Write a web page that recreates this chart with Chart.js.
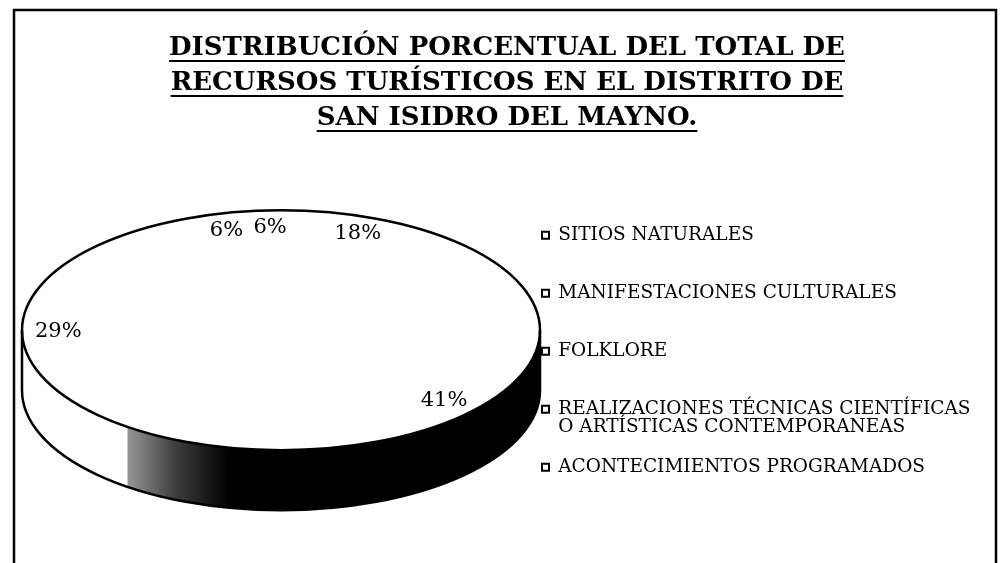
<!DOCTYPE html>
<html>
<head>
<meta charset="utf-8">
<script src="https://cdn.jsdelivr.net/npm/chart.js@4.4.1/dist/chart.umd.min.js"></script>
<style>
  html, body { margin: 0; background: #fff; }
  #wrap { width: 1004px; height: 563px; position: relative; }
</style>
</head>
<body>
<div id="wrap"><canvas id="pie"></canvas></div>
<script>
  // ── data ──
  const titleLines = [
    'DISTRIBUCIÓN PORCENTUAL DEL TOTAL DE',
    'RECURSOS TURÍSTICOS EN EL DISTRITO DE',
    'SAN ISIDRO DEL MAYNO.'
  ];
  const categories = [
    'SITIOS NATURALES',
    'MANIFESTACIONES CULTURALES',
    'FOLKLORE',
    ['REALIZACIONES TÉCNICAS CIENTÍFICAS', 'O ARTÍSTICAS CONTEMPORANEAS'],
    'ACONTECIMIENTOS PROGRAMADOS'
  ];
  const percents = [18, 41, 29, 6, 6];
  // colour of each slice's visible side wall (the scan lost the top colours)
  const sideColors = ['#ffffff', '#000000', '#ffffff', '#ffffff', '#ffffff'];

  // ── flattened 3D pie: squash the arcs, draw wall, outline and % labels ──
  const pie3d = {
    id: 'pie3d',
    beforeDraw(chart) {
      const ctx = chart.ctx;
      ctx.save();
      ctx.strokeStyle = '#000';
      ctx.lineWidth = 2.5;
      ctx.beginPath();
      ctx.moveTo(14, 563); ctx.lineTo(14, 10); ctx.lineTo(996, 10); ctx.lineTo(996, 563);
      ctx.stroke();
      ctx.restore();
    },
    beforeDatasetsDraw(chart, args, opts) {
      const ctx = chart.ctx;
      const arcs = chart.getDatasetMeta(0).data;
      const { x: cx, y: cy, outerRadius: rx } = arcs[0];
      const ry = rx * opts.tilt;
      arcs.forEach((arc, i) => {
        for (const shift of [-2 * Math.PI, 0, 2 * Math.PI]) {
          const a0 = Math.max(arc.startAngle + shift, 0);
          const a1 = Math.min(arc.endAngle + shift, Math.PI);
          if (a1 <= a0) continue;
          let fill = sideColors[i];
          if (fill !== '#ffffff') {
            const g = ctx.createLinearGradient(cx - rx * 0.6, 0, cx - rx * 0.2, 0);
            g.addColorStop(0, '#9a9a9a');
            g.addColorStop(0.5, '#3a3a3a');
            g.addColorStop(1, fill);
            fill = g;
          }
          ctx.beginPath();
          ctx.ellipse(cx, cy, rx, ry, 0, a0, a1, false);
          ctx.ellipse(cx, cy + opts.depth, rx, ry, 0, a1, a0, true);
          ctx.closePath();
          ctx.fillStyle = fill;
          ctx.fill();
        }
      });
      ctx.save();
      ctx.translate(cx, cy);
      ctx.scale(1, opts.tilt);
      ctx.translate(-cx, -cy);
    },
    afterDatasetsDraw(chart, args, opts) {
      const ctx = chart.ctx;
      ctx.restore();
      const arcs = chart.getDatasetMeta(0).data;
      const { x: cx, y: cy, outerRadius: rx } = arcs[0];
      const ry = rx * opts.tilt;
      ctx.save();
      ctx.strokeStyle = '#000';
      ctx.lineWidth = 2.5;
      ctx.beginPath();
      ctx.ellipse(cx, cy, rx, ry, 0, 0, 2 * Math.PI);
      ctx.stroke();
      ctx.beginPath();
      ctx.moveTo(cx + rx, cy);
      ctx.ellipse(cx, cy + opts.depth, rx, ry, 0, 0, Math.PI, false);
      ctx.lineTo(cx - rx, cy);
      ctx.stroke();

      // percentage labels; angles nudged toward the back like Excel's perspective view
      const total = percents.reduce((a, b) => a + b, 0);
      ctx.fillStyle = '#000';
      ctx.font = '21px "DejaVu Serif"';
      ctx.textAlign = 'center';
      ctx.textBaseline = 'middle';
      arcs.forEach((arc, i) => {
        let t = (arc.startAngle + arc.endAngle) / 2 + Math.PI / 2; // from 12 o'clock
        if (Math.cos(t) > 0) t -= opts.warpBack * Math.sin(2 * t);
        else t += opts.warpFront * Math.sin(2 * t);
        const lx = cx + opts.labelAt * rx * Math.sin(t);
        const ly = cy - opts.labelAt * ry * Math.cos(t);
        ctx.fillText(Math.round(percents[i] / total * 100) + '%', lx, ly);
      });
      ctx.restore();
    },
    afterDraw(chart) {
      // underline the title lines
      const ctx = chart.ctx, t = chart.titleBlock;
      const f = Chart.helpers.toFont(t.options.font);
      const pad = Chart.helpers.toPadding(t.options.padding);
      const xc = (t.left + t.right) / 2;
      ctx.save();
      ctx.font = f.string;
      ctx.fillStyle = '#000';
      titleLines.forEach((line, i) => {
        const w = ctx.measureText(line).width;
        const y = t.top + pad.top + f.lineHeight * (i + 0.5) + 12;
        ctx.fillRect(xc - w / 2, y, w, 2);
      });
      ctx.restore();
    }
  };

  new Chart(document.getElementById('pie'), {
    type: 'pie',
    data: {
      labels: categories,
      datasets: [{
        data: percents,
        backgroundColor: '#ffffff',
        borderWidth: 0,
        radius: 259,
        rotation: 4,
        clip: false
      }]
    },
    options: {
      responsive: true,
      maintainAspectRatio: false,
      animation: false,
      events: [],
      layout: { padding: { left: 42, right: 32, top: 20, bottom: 47 } },
      plugins: {
        title: {
          display: true,
          text: titleLines,
          color: '#000',
          font: { family: 'DejaVu Serif', size: 26, weight: 'bold', lineHeight: 35 / 26 },
          padding: { top: 10.5, bottom: 9 }
        },
        legend: {
          position: 'right',
          align: 'end',
          maxWidth: 452,
          labels: {
            boxWidth: 7,
            boxHeight: 7,
            padding: 22,
            color: '#000',
            font: { family: 'DejaVu Serif', size: 18.5, lineHeight: 18 / 18.5 },
            generateLabels: chart => chart.data.labels.map((text, i) => ({
              text: Array.isArray(text) ? text : [text, ''],
              fillStyle: '#ffffff',
              strokeStyle: '#000',
              lineWidth: 2,
              fontColor: '#000',
              hidden: false,
              index: i
            }))
          }
        },
        tooltip: { enabled: false },
        pie3d: { tilt: 0.463, depth: 60, labelAt: 0.86, warpBack: 17 * Math.PI / 180, warpFront: 10 * Math.PI / 180 }
      }
    },
    plugins: [pie3d]
  });
</script>
</body>
</html>
